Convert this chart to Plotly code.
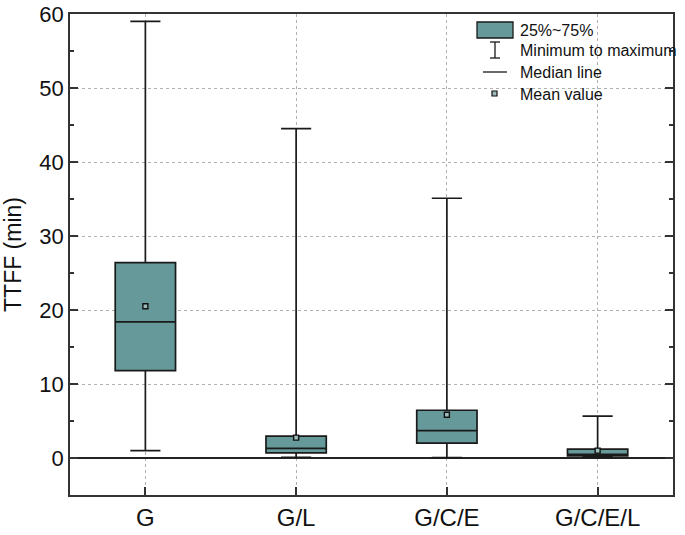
import plotly.graph_objects as go

categories = ["G", "G/L", "G/C/E", "G/C/E/L"]
q1_vals = [11.8, 0.7, 2.0, 0.3]
median_vals = [18.4, 1.3, 3.7, 0.5]
q3_vals = [26.4, 2.95, 6.45, 1.2]
min_vals = [1.0, 0.1, 0.05, 0.05]
max_vals = [59.0, 44.5, 35.1, 5.65]
mean_vals = [20.5, 2.75, 5.85, 1.0]

legend_labels = ["25%~75%", "Minimum to maximum", "Median line", "Mean value"]

TEAL = "#669999"
FONT = "Arial, Liberation Sans, sans-serif"

fig = go.Figure()
fig.add_trace(go.Box(
    x=categories, q1=q1_vals, median=median_vals, q3=q3_vals,
    lowerfence=min_vals, upperfence=max_vals,
    fillcolor=TEAL, line=dict(color="#1a1a1a", width=1.7),
    width=0.4, whiskerwidth=0.5, boxpoints=False, hoverinfo="skip",
    showlegend=False,
))
fig.add_trace(go.Scatter(
    x=categories, y=mean_vals, mode="markers",
    marker=dict(symbol="square", size=5, color="#9fbcbc",
                line=dict(color="#111", width=1.4)),
    showlegend=False, hoverinfo="skip",
))

# plot area in page pixels
L, R, T, B = 70, 673, 14, 495
W, H = 685, 535

def px(x):
    return (x - L) / (R - L)

def py(y):
    return (B - y) / (B - T)

shapes = []
shapes.append(dict(type="rect", xref="paper", yref="paper",
                   x0=px(477), x1=px(513), y0=py(38), y1=py(22),
                   fillcolor=TEAL, line=dict(color="#1a1a1a", width=1.3)))
shapes.append(dict(type="line", xref="paper", yref="paper",
                   x0=px(495), x1=px(495), y0=py(58), y1=py(42),
                   line=dict(color="#1a1a1a", width=1.3)))
shapes.append(dict(type="line", xref="paper", yref="paper",
                   x0=px(490), x1=px(500), y0=py(42), y1=py(42),
                   line=dict(color="#1a1a1a", width=1.3)))
shapes.append(dict(type="line", xref="paper", yref="paper",
                   x0=px(490), x1=px(500), y0=py(58), y1=py(58),
                   line=dict(color="#1a1a1a", width=1.3)))
shapes.append(dict(type="line", xref="paper", yref="paper",
                   x0=px(483), x1=px(507), y0=py(72), y1=py(72),
                   line=dict(color="#1a1a1a", width=1.3)))
shapes.append(dict(type="rect", xref="paper", yref="paper",
                   x0=px(492), x1=px(497), y0=py(96), y1=py(91),
                   fillcolor="#9fbcbc", line=dict(color="#111", width=1.2)))

annotations = []
for lbl, yc in zip(legend_labels, [30, 51, 73, 95]):
    annotations.append(dict(text=lbl, xref="paper", yref="paper",
                            x=px(518), y=py(yc), xanchor="left", yanchor="middle",
                            showarrow=False, font=dict(family=FONT, size=16, color="#111")))

fig.update_layout(
    width=W, height=H,
    margin=dict(l=L, r=W - R, t=T, b=H - B),
    paper_bgcolor="white", plot_bgcolor="white",
    shapes=shapes, annotations=annotations,
    font=dict(family=FONT, color="#111"),
)
fig.update_xaxes(
    range=[-0.5, 3.5], showline=True, linecolor="#333", linewidth=1.5, mirror=True,
    ticks="inside", ticklen=8, tickwidth=1.5, tickcolor="#333",
    showgrid=True, gridcolor="#b0b0b0", griddash="dot", gridwidth=1,
    tickfont=dict(size=24, family=FONT, color="#111"), automargin=False,
)
fig.update_yaxes(
    range=[-5, 60], dtick=10, tick0=0, showline=True, linecolor="#333", linewidth=1.5,
    mirror="ticks", ticks="inside", ticklen=8, tickwidth=1.5, tickcolor="#333",
    minor=dict(ticks="inside", ticklen=4, tickwidth=1.5, tickcolor="#333", dtick=5, showgrid=False),
    showgrid=True, gridcolor="#b0b0b0", griddash="dot", gridwidth=1,
    zeroline=True, zerolinecolor="#222", zerolinewidth=1.5,
    tickfont=dict(size=22, family=FONT, color="#111"), ticklabeloverflow="allow",
    title=dict(text="TTFF (min)", font=dict(size=23, family=FONT, color="#111"), standoff=11),
    automargin=False,
)

fig.write_html("out.html", config={"displayModeBar": False},
               post_script="document.body.style.margin='0';")
